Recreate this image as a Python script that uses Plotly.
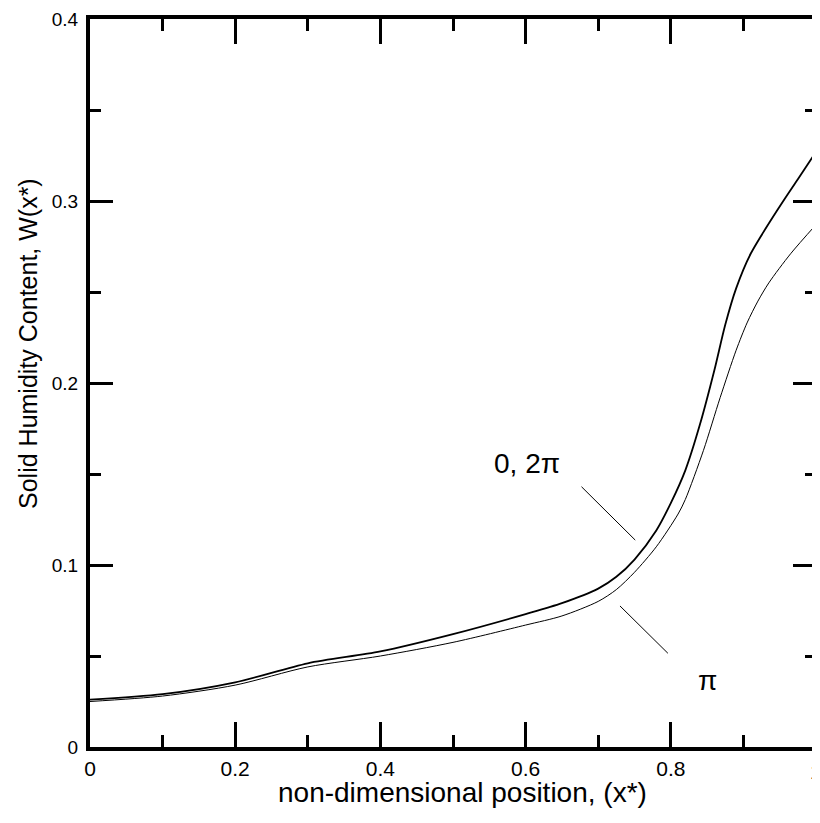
import plotly.graph_objects as go

# curve for phase 0, 2pi (upper, thicker)
x_upper = [0, 0.1, 0.2, 0.3, 0.4, 0.5, 0.6, 0.65, 0.7, 0.725, 0.75, 0.78, 0.80, 0.82,
           0.84, 0.86, 0.875, 0.89, 0.91, 0.95, 0.975, 1.0]
w_upper = [0.026, 0.029, 0.0355, 0.046, 0.0525, 0.062, 0.073, 0.079, 0.087, 0.0935, 0.103,
           0.119, 0.134, 0.152, 0.177, 0.207, 0.232, 0.252, 0.271, 0.297, 0.312, 0.327]

# curve for phase pi (lower, thinner)
x_lower = [0, 0.1, 0.2, 0.3, 0.4, 0.5, 0.6, 0.65, 0.7, 0.725, 0.75, 0.78, 0.81, 0.82,
           0.845, 0.868, 0.89, 0.905, 0.92, 0.935, 0.965, 1.0]
w_lower = [0.025, 0.028, 0.034, 0.044, 0.050, 0.0575, 0.067, 0.072, 0.080, 0.0865, 0.096,
           0.110, 0.128, 0.136, 0.163, 0.192, 0.218, 0.233, 0.245, 0.255, 0.271, 0.287]

x_ticks = [0, 0.2, 0.4, 0.6, 0.8, 1]
x_ticklabels = ['0', '0.2', '0.4', '0.6', '0.8', '1']
y_ticks = [0, 0.1, 0.2, 0.3, 0.4]
y_ticklabels = ['0', '0.1', '0.2', '0.3', '0.4']

FONT = 'Liberation Sans, Arial, sans-serif'

fig = go.Figure()

fig.add_trace(go.Scatter(x=x_upper, y=w_upper, mode='lines', name='0, 2π',
                         line=dict(color='black', width=1.8, shape='spline', smoothing=0.8)))
fig.add_trace(go.Scatter(x=x_lower, y=w_lower, mode='lines', name='π',
                         line=dict(color='black', width=1.0, shape='spline', smoothing=0.8)))

# leader lines for curve labels
fig.add_shape(type='line', x0=0.677, y0=0.143, x1=0.751, y1=0.1137,
              line=dict(color='black', width=1))
fig.add_shape(type='line', x0=0.730, y0=0.0775, x1=0.796, y1=0.0515,
              line=dict(color='black', width=1))
fig.add_annotation(x=0.602, y=0.156, text='0, 2π', showarrow=False,
                   font=dict(family=FONT, size=28, color='black'))
fig.add_annotation(x=0.850, y=0.0368, text='π', showarrow=False,
                   font=dict(family=FONT, size=28, color='black'))

# the last x tick label sits on the page edge and plotly drops it, so draw it here
fig.add_annotation(x=x_ticks[-1], y=0, text=x_ticklabels[-1], showarrow=False,
                   yshift=-24, xanchor='center', yanchor='middle',
                   font=dict(family=FONT, size=21, color='black'))

# axis titles
fig.add_annotation(xref='paper', yref='paper', x=0.513, y=-0.062,
                   xanchor='center', yanchor='middle',
                   text='non-dimensional position, (x*)', showarrow=False,
                   font=dict(family=FONT, size=28, color='black'))
fig.add_annotation(xref='paper', yref='paper', x=-0.0854, y=0.555, textangle=-90,
                   xanchor='center', yanchor='middle',
                   text='Solid Humidity Content, W(x*)', showarrow=False,
                   font=dict(family=FONT, size=25, color='black'))

axis_common = dict(
    showline=True, linecolor='black', linewidth=4, mirror='ticks',
    ticks='inside', tickwidth=3, tickcolor='black',
    showgrid=False, zeroline=False, automargin=False,
)

# page body has an 8px margin, so the figure is shrunk by that amount
fig.update_layout(
    width=812, height=815,
    margin=dict(l=82, r=4, t=11, b=76),
    plot_bgcolor='white', paper_bgcolor='white',
    showlegend=False,
    xaxis=dict(range=[0, 1], tickvals=x_ticks[:-1], ticktext=x_ticklabels[:-1], ticklen=25,
               tickfont=dict(family=FONT, size=21, color='black'),
               minor=dict(ticks='inside', dtick=0.1, ticklen=12, tickwidth=3, tickcolor='black'),
               **axis_common),
    yaxis=dict(range=[0, 0.4], tickvals=y_ticks, ticktext=y_ticklabels, ticklen=23,
               tickfont=dict(family=FONT, size=19, color='black'),
               ticklabelstandoff=4,
               minor=dict(ticks='inside', dtick=0.05, ticklen=11, tickwidth=3, tickcolor='black'),
               **axis_common),
)

fig.write_html('out.html')
